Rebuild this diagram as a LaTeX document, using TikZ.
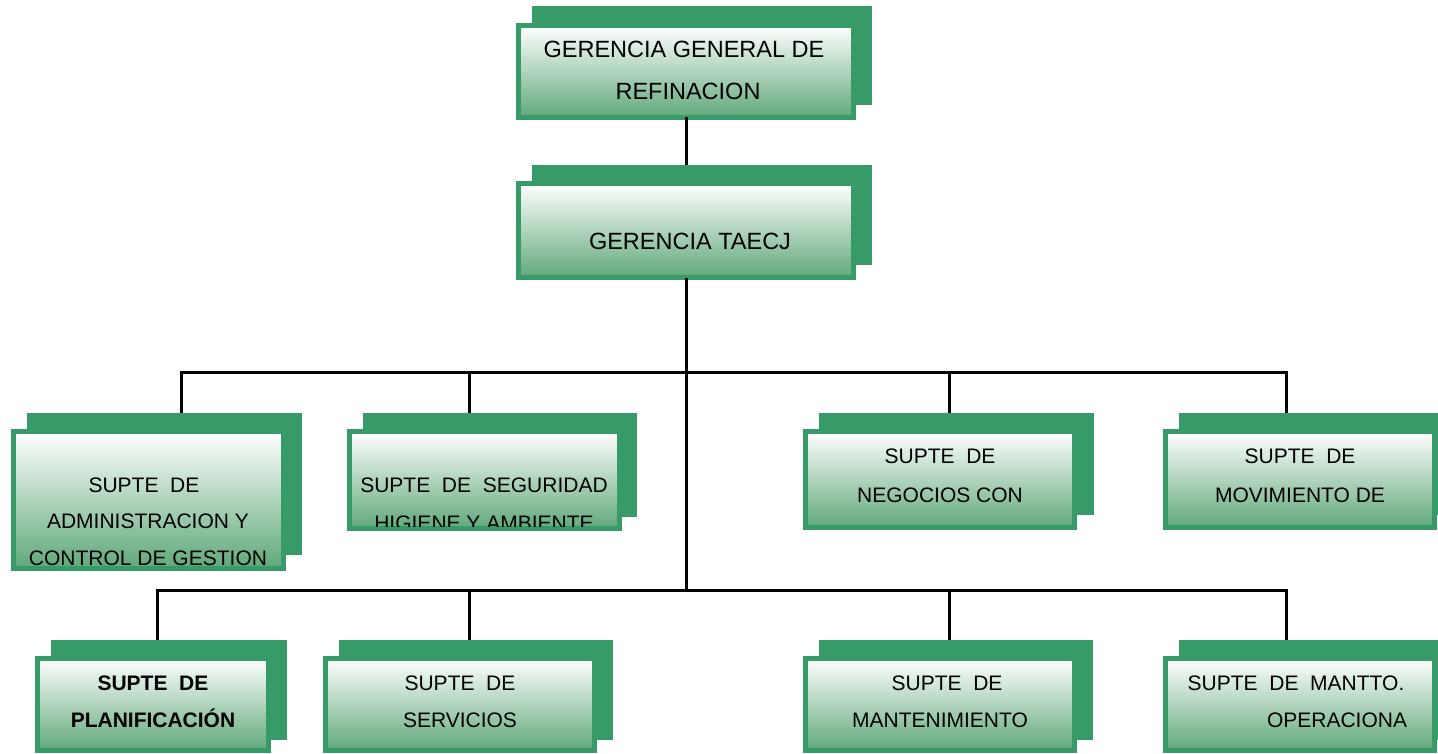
\documentclass[tikz,border=0pt]{standalone}
\usepackage{fontspec}
\setmainfont{Liberation Sans}
\usetikzlibrary{calc}
\definecolor{gbox}{RGB}{54,154,105}
\definecolor{gboxbot}{RGB}{96,168,122}
\tikzset{
  backbox/.style={rectangle, fill=gbox, draw=none, inner sep=0pt, outer sep=0pt, anchor=north west},
  frontbox/.style={rectangle, draw=gbox, line width=5pt, top color=white, bottom color=gboxbot, inner sep=0pt, outer sep=0pt, anchor=north west},
  lbl/.style={anchor=base, inner sep=0pt, text=black, font=\fontsize{21}{21}\selectfont},
  biglbl/.style={anchor=base, inner sep=0pt, text=black, font=\fontsize{23.5}{23.5}\selectfont},
  boldlbl/.style={anchor=base, inner sep=0pt, text=black, font=\fontsize{21}{21}\selectfont\bfseries},
  conn/.style={line width=3pt, black, line join=miter},
}
% #1 name, #2-#5 back box (x1,y1,x2,y2), #6-#9 front box outer (x1,y1,x2,y2)
\newcommand\orgbox[9]{%
  \node[backbox, minimum width={#4-#2}, minimum height={#5-#3}] (k#1) at (#2,#3) {};
  \node[frontbox, minimum width={#8-#6-5}, minimum height={#9-#7-5}] (f#1) at ({#6+2.5},{#7+2.5}) {};
}
\begin{document}
\begin{tikzpicture}[x=1pt,y=-1pt]
\useasboundingbox (0,0) rectangle (1438,754);
\clip (0,0) rectangle (1438,754);

% connector geometry
\coordinate (hub) at (686,590);
\coordinate (ta) at (181,372);
\coordinate (tb) at (469,372);
\coordinate (tc) at (949,372);
\coordinate (td) at (1286,372);
\coordinate (ba) at (157,590);
\coordinate (bb) at (469,590);
\coordinate (bc) at (949,590);
\coordinate (bd) at (1286,590);

% boxes
\orgbox{1}{532}{6}{872}{105}{516}{23}{856}{120}
\orgbox{2}{532}{165}{872}{265}{516}{181}{856}{280}
\orgbox{3}{27}{413}{302}{555}{11}{429}{286}{571}
\orgbox{4}{363}{413}{637}{517}{347}{429}{622}{531}
\orgbox{5}{819}{413}{1094}{515}{803}{429}{1077}{530}
\orgbox{6}{1179}{413}{1454}{515}{1163}{429}{1437}{530}
\orgbox{7}{51}{640}{287}{740}{35}{656}{271}{753}
\orgbox{8}{339}{640}{613}{740}{323}{656}{597}{753}
\orgbox{9}{819}{640}{1093}{740}{803}{656}{1077}{753}
\orgbox{10}{1179}{640}{1454}{740}{1163}{656}{1437}{753}

% connectors
\draw[conn] (f1.south) -- (k2.north -| f1.south);
\draw[conn] (f2.south) -- (hub);
\draw[conn] (ta |- k3.north) -- (ta) -- (td) -- (td |- k6.north);
\draw[conn] (tb) -- (tb |- k4.north);
\draw[conn] (tc) -- (tc |- k5.north);
\draw[conn] (ba |- k7.north) -- (ba) -- (bd) -- (bd |- k10.north);
\draw[conn] (bb) -- (bb |- k8.north);
\draw[conn] (bc) -- (bc |- k9.north);

% texts
\node[biglbl] (t1a) at (684,58) {GERENCIA GENERAL DE};
\node[biglbl] (t1b) at (688,100) {REFINACION};
\node[biglbl] (t2a) at (690,250) {GERENCIA TAECJ};

\node[lbl] (t3a) at (144,492) {SUPTE~~DE};
\node[lbl] (t3b) at (148,528) {ADMINISTRACION Y};
\node[lbl] (t3c) at (148,565) {CONTROL DE GESTION};

\node[lbl] (t4a) at (484,492) {SUPTE~~DE~~SEGURIDAD};
\begin{scope}
  \clip (352,434) rectangle (617,526);
  \node[lbl] (t4b) at (484,530) {HIGIENE Y AMBIENTE};
\end{scope}

\node[lbl] (t5a) at (940,463) {SUPTE~~DE};
\node[lbl] (t5b) at (940,502) {NEGOCIOS CON};

\node[lbl] (t6a) at (1300,463) {SUPTE~~DE};
\node[lbl] (t6b) at (1300,502) {MOVIMIENTO DE};

\node[boldlbl] (t7a) at (153,690) {SUPTE~~DE};
\node[boldlbl] (t7b) at (153,727) {PLANIFICACIÓN};

\node[lbl] (t8a) at (460,690) {SUPTE~~DE};
\node[lbl] (t8b) at (460,727) {SERVICIOS};

\node[lbl] (t9a) at (947,690) {SUPTE~~DE};
\node[lbl] (t9b) at (940,727) {MANTENIMIENTO};

\node[lbl] (t10a) at (1296,690) {SUPTE~~DE~~MANTTO.};
\node[lbl] (t10b) at (1337,727) {OPERACIONA};
\end{tikzpicture}
\end{document}
